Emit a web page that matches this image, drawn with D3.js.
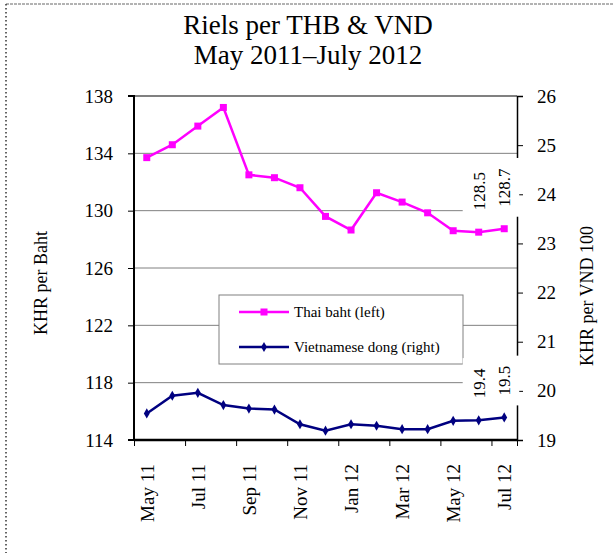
<!DOCTYPE html>
<html>
<head>
<meta charset="utf-8">
<script src="https://cdn.jsdelivr.net/npm/d3@7"></script>
<style>
  body { margin: 0; background: #fff; }
  svg, svg text { font-family: "Liberation Serif", "Times New Roman", serif; }
  svg { display: block; }
</style>
</head>
<body>
<svg id="chart" width="613" height="555"></svg>
<script>
// months, one point each
const months = ['May 11', 'Jun 11', 'Jul 11', 'Aug 11', 'Sep 11', 'Oct 11', 'Nov 11', 'Dec 11',
	'Jan 12', 'Feb 12', 'Mar 12', 'Apr 12', 'May 12', 'Jun 12', 'Jul 12'];
// KHR per baht (left axis)
const thb = [133.7, 134.6, 135.9, 137.2, 132.5, 132.3, 131.6, 129.6,
	128.65, 131.25, 130.6, 129.85, 128.6, 128.5, 128.74];
// KHR per 100 dong (right axis)
const vnd = [19.54, 19.9, 19.96, 19.71, 19.64, 19.62, 19.32, 19.19,
	19.32, 19.29, 19.22, 19.22, 19.39, 19.4, 19.46];
const leftTicks = [114, 118, 122, 126, 130, 134, 138];
const rightTicks = [19, 20, 21, 22, 23, 24, 25, 26];
const labelled = [13, 14]; // points that carry a data label

let svg = d3.select('#chart');
let pLeft = 134, pRight = 517, pTop = 96, pBottom = 440;

// page border (dotted left, dashed top)
svg.append('line').attr('x1', 6).attr('x2', 613).attr('y1', 4).attr('y2', 4)
	.attr('stroke', '#666').attr('stroke-width', 1).attr('stroke-dasharray', '3,1');
svg.append('line').attr('x1', 6).attr('x2', 6).attr('y1', 4).attr('y2', 553)
	.attr('stroke', '#333').attr('stroke-width', 1.5).attr('stroke-dasharray', '1.5,2.5');

// title
let title = svg.append('text').attr('text-anchor', 'middle').attr('font-size', 27).attr('fill', '#000');
title.append('tspan').attr('x', 308).attr('y', 34).text('Riels per THB & VND');
title.append('tspan').attr('x', 308).attr('y', 64).text('May 2011\u2013July 2012');

var x = d3.scaleBand().domain(months).range([pLeft, pRight]).padding(0);
var xi = d3.scaleLinear().domain([0, months.length]).range([pLeft, pRight]);
var yL = d3.scaleLinear().domain([114, 138]).range([pBottom, pTop]);
var yR = d3.scaleLinear().domain([19, 26]).range([pBottom, pTop]);
function cx(d, i) { return x(months[i]) + x.bandwidth() / 2; }

// gridlines
svg.append('g').selectAll('line').data(leftTicks.slice(1)).enter().append('line')
	.attr('x1', pLeft).attr('x2', pRight)
	.attr('y1', d => yL(d)).attr('y2', d => yL(d))
	.attr('stroke', '#808080')
	.attr('stroke-width', d => d === 138 ? 2 : 1);

// left axis
let gl = svg.append('g').attr('transform', `translate(${pLeft},0)`)
	.call(d3.axisLeft(yL).tickValues(leftTicks).tickSize(6).tickPadding(15).tickFormat(d3.format('d')));
gl.attr('font-family', null).attr('font-size', 19);
gl.select('.domain').attr('stroke', '#000').attr('stroke-width', 2).attr('d', `M-6,${pTop}H0V${pBottom}H-6`);
gl.selectAll('text').attr('fill', '#000');

// right axis
let gr = svg.append('g').attr('transform', `translate(${pRight},0)`)
	.call(d3.axisRight(yR).tickValues(rightTicks).tickSize(6).tickPadding(14).tickFormat(d3.format('d')));
gr.attr('font-family', null).attr('font-size', 19);
gr.select('.domain').attr('stroke', '#000').attr('stroke-width', 1.5);
gr.selectAll('text').attr('fill', '#000');

// bottom axis: ticks every two months, labels on alternate months
let tickIdx = d3.range(0, months.length + 1, 2).concat([months.length]);
let gb = svg.append('g').attr('transform', `translate(0,${pBottom})`)
	.call(d3.axisBottom(xi).tickValues(tickIdx).tickSize(6).tickFormat(''));
gb.select('.domain').attr('stroke', '#000').attr('stroke-width', 2.5).attr('d', `M${pLeft},0H${pRight}`);
gb.selectAll('.tick line').attr('stroke', '#000');
svg.append('g').selectAll('text').data(months.filter((m, i) => i % 2 === 0)).enter().append('text')
	.attr('transform', d => `translate(${x(d) + x.bandwidth() / 2 + 7},${pBottom + 24}) rotate(-90)`)
	.attr('text-anchor', 'end')
	.attr('font-size', 19)
	.text(d => d);

// axis titles
svg.append('text').attr('transform', 'translate(47,283) rotate(-90)')
	.attr('text-anchor', 'middle').attr('font-size', 18).text('KHR per Baht');
svg.append('text').attr('transform', 'translate(593,296) rotate(-90)')
	.attr('text-anchor', 'middle').attr('font-size', 18).text('KHR per VND 100');

// series
let lineL = d3.line().x(cx).y(d => yL(d));
let lineR = d3.line().x(cx).y(d => yR(d));
svg.append('path').datum(thb).attr('d', lineL).attr('fill', 'none')
	.attr('stroke', '#ff00ff').attr('stroke-width', 2.5);
svg.append('g').selectAll('rect').data(thb).enter().append('rect')
	.attr('x', (d, i) => cx(d, i) - 3.5).attr('y', d => yL(d) - 3.5)
	.attr('width', 7).attr('height', 7).attr('fill', '#ff00ff');
svg.append('path').datum(vnd).attr('d', lineR).attr('fill', 'none')
	.attr('stroke', '#000080').attr('stroke-width', 2.5);
let diamond = d3.symbol().type(d3.symbolDiamond).size(30);
svg.append('g').selectAll('path').data(vnd).enter().append('path')
	.attr('d', diamond)
	.attr('transform', (d, i) => `translate(${cx(d, i)},${yR(d)})`)
	.attr('fill', '#000080');

// legend
let lg = svg.append('g');
lg.append('rect').attr('x', 219).attr('y', 295).attr('width', 244).attr('height', 69)
	.attr('fill', '#fff').attr('stroke', '#808080').attr('stroke-width', 1);
lg.append('line').attr('x1', 239).attr('x2', 289).attr('y1', 312).attr('y2', 312)
	.attr('stroke', '#ff00ff').attr('stroke-width', 2.5);
lg.append('rect').attr('x', 260.5).attr('y', 308.5).attr('width', 7).attr('height', 7).attr('fill', '#ff00ff');
lg.append('text').attr('x', 294).attr('y', 317).attr('font-size', 15).text('Thai baht (left)');
lg.append('line').attr('x1', 239).attr('x2', 289).attr('y1', 347).attr('y2', 347)
	.attr('stroke', '#000080').attr('stroke-width', 2.5);
lg.append('path').attr('d', diamond).attr('transform', 'translate(264,347)').attr('fill', '#000080');
lg.append('text').attr('x', 294).attr('y', 352).attr('font-size', 15).text('Vietnamese dong (right)');

// data labels in white boxes, rotated
function addLabel(px, py, value) {
	let g = svg.append('g').attr('transform', `translate(${px},${py - 22}) rotate(-90)`);
	let t = g.append('text').attr('x', 0).attr('y', 6).attr('font-size', 17).text(d3.format('.1f')(value));
	let b = t.node().getBBox();
	g.insert('rect', 'text')
		.attr('x', b.x - 10).attr('y', b.y - 7)
		.attr('width', b.width + 20).attr('height', b.height + 12)
		.attr('fill', '#fff');
}
labelled.forEach(function(i) {
	addLabel(cx(0, i), yL(thb[i]), thb[i]);
	addLabel(cx(0, i), yR(vnd[i]), vnd[i]);
});
</script>
</body>
</html>
